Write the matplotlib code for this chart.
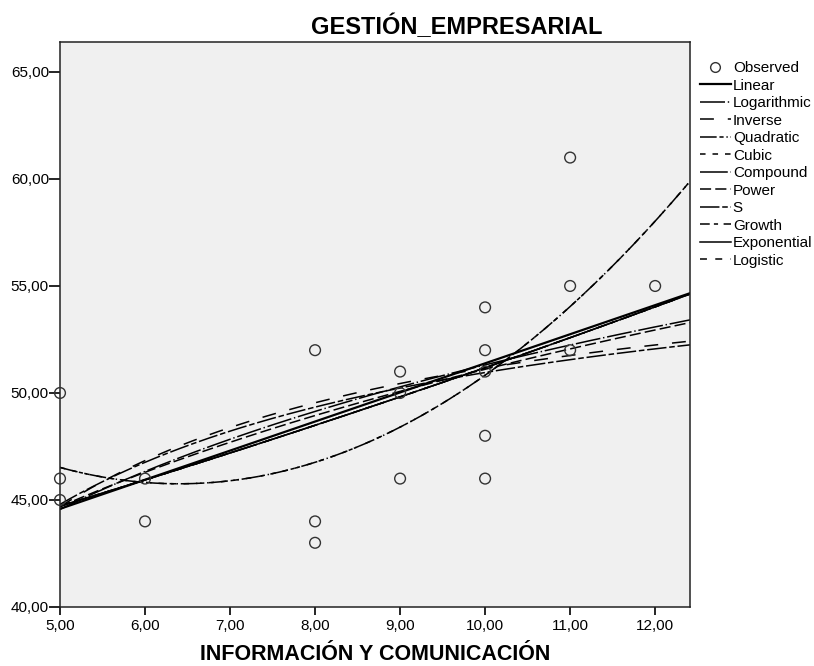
import numpy as np
import matplotlib
matplotlib.use("Agg")
import matplotlib.pyplot as plt
from matplotlib.lines import Line2D
from matplotlib.ticker import FuncFormatter, FixedLocator

plt.rcParams['font.family'] = ['Liberation Sans', 'DejaVu Sans']
plt.rcParams['lines.scale_dashes'] = False

# Observed data (INFORMACIÓN Y COMUNICACIÓN vs GESTIÓN_EMPRESARIAL)
obs_x = [5, 5, 5, 6, 6, 8, 8, 8, 9, 9, 9, 10, 10, 10, 10, 10, 11, 11, 11, 12]
obs_y = [50, 46, 45, 46, 44, 52, 44, 43, 51, 50, 46, 54, 52, 51, 48, 46, 61, 55, 52, 55]

model_names = ["Linear", "Logarithmic", "Inverse", "Quadratic", "Cubic", "Compound",
               "Power", "S", "Growth", "Exponential", "Logistic"]
x_ticks = [5, 6, 7, 8, 9, 10, 11, 12]
y_ticks = [40, 45, 50, 55, 60, 65]
x_range = (5.0, 12.41)
y_range = (40.0, 66.4)

styles = {
    "Linear": dict(ls="-", lw=1.6),
    "Logarithmic": dict(ls=(0, (18, 2, 1, 2)), lw=1.1),
    "Inverse": dict(ls=(0, (10, 10)), lw=1.1),
    "Quadratic": dict(ls=(0, (12, 2, 3, 2, 1, 2)), lw=1.1),
    "Cubic": dict(ls=(0, (4, 5)), lw=1.1),
    "Compound": dict(ls=(0, (20, 2, 1, 2)), lw=1.1),
    "Power": dict(ls=(0, (8, 3)), lw=1.1),
    "S": dict(ls=(0, (14, 2, 4, 2)), lw=1.1),
    "Growth": dict(ls=(0, (7, 3, 3, 4)), lw=1.1),
    "Exponential": dict(ls="-", lw=1.1),
    "Logistic": dict(ls=(0, (5, 6)), lw=1.1),
}

x = np.asarray(obs_x, float)
y = np.asarray(obs_y, float)
xs = np.linspace(x_range[0], x_range[1], 200)


def fit_curve(name):
    # SPSS curve estimation models fitted to the observed data
    if name == "Linear":
        return np.polyval(np.polyfit(x, y, 1), xs)
    if name == "Logarithmic":
        return np.polyval(np.polyfit(np.log(x), y, 1), np.log(xs))
    if name == "Inverse":
        return np.polyval(np.polyfit(1 / x, y, 1), 1 / xs)
    if name in ("Quadratic", "Cubic"):
        # cubic term removed by tolerance -> same as quadratic in the chart
        return np.polyval(np.polyfit(x, y, 2), xs)
    if name in ("Compound", "Growth", "Exponential", "Logistic"):
        return np.exp(np.polyval(np.polyfit(x, np.log(y), 1), xs))
    if name == "Power":
        return np.exp(np.polyval(np.polyfit(np.log(x), np.log(y), 1), np.log(xs)))
    if name == "S":
        return np.exp(np.polyval(np.polyfit(1 / x, np.log(y), 1), 1 / xs))


fig = plt.figure(figsize=(8.14, 6.66), dpi=100)
ax = fig.add_axes([60 / 814, 1 - 607 / 666, 630 / 814, 565 / 666])
ax.set_facecolor("#f0f0f0")

ax.scatter(obs_x, obs_y, s=60, facecolors="none", edgecolors="#333333", linewidths=1.0,
           zorder=3, clip_on=False)

handles = [Line2D([], [], ls="none", marker="o", mfc="none", mec="#333333", ms=7, label="Observed")]
for name in model_names:
    st = styles[name]
    ax.plot(xs, fit_curve(name), color="black", linestyle=st["ls"], lw=st["lw"], zorder=2)
    handles.append(Line2D([], [], color="black", linestyle=st["ls"], lw=st["lw"], label=name))

ax.set_xlim(*x_range)
ax.set_ylim(*y_range)
ax.xaxis.set_major_locator(FixedLocator(x_ticks))
ax.yaxis.set_major_locator(FixedLocator(y_ticks))
fmt = FuncFormatter(lambda v, p: f"{v:.2f}".replace(".", ","))
ax.xaxis.set_major_formatter(fmt)
ax.yaxis.set_major_formatter(fmt)
ax.tick_params(axis="x", direction="out", length=5.5, width=1.2, labelsize=11, colors="black", pad=3)
ax.tick_params(axis="y", direction="out", length=8, width=1.2, labelsize=11, colors="black", pad=0)
for sp in ax.spines.values():
    sp.set_color("#222222")
    sp.set_linewidth(1.1)

fig.text(375 / 814, 1 - 655 / 666, "INFORMACIÓN Y COMUNICACIÓN", ha="center", va="center",
         fontsize=15.5, fontweight="bold")
fig.text(457 / 814, 1 - 27 / 666, "GESTIÓN_EMPRESARIAL", ha="center", va="center",
         fontsize=17, fontweight="bold")

leg = fig.legend(handles=handles, loc="upper left", bbox_to_anchor=(700 / 814, 1 - 61 / 666),
                 frameon=False, fontsize=11, handlelength=2.0, handletextpad=0.15,
                 labelspacing=0.23, borderpad=0.0, borderaxespad=0.0)

fig.savefig("out.png", dpi=100, facecolor="white")
